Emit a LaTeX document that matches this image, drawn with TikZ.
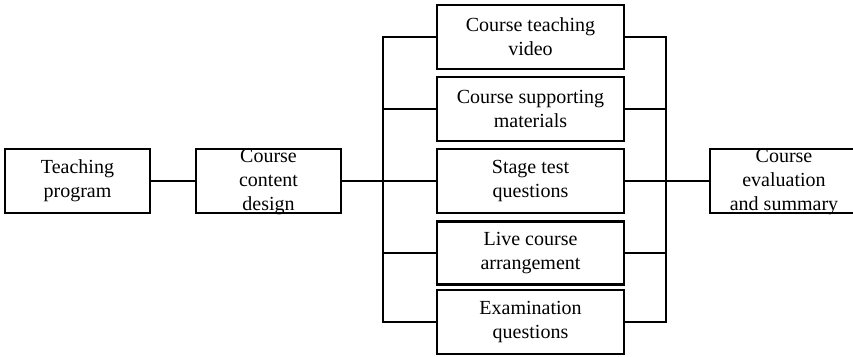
\documentclass[tikz,border=0pt]{standalone}
\usepackage{fontspec}
\setmainfont{Liberation Serif}
\begin{document}
\begin{tikzpicture}[x=1pt,y=-1pt,
  line width=2.2pt,
  box/.style={draw, rectangle, inner sep=0pt, minimum width=#1, minimum height=64pt},
  txt/.style={inner sep=0pt, align=center, font=\fontsize{20}{24}\selectfont},
  link/.style={draw, line join=miter}]
\useasboundingbox (0,0) rectangle (853,356);

% main chain
\node[box=145pt] (tp) at (77.5,181) {};
\node[txt] (tpt) at (tp) {Teaching\\program};
\node[box=145pt] (ccd) at (268.5,181) {};
\node[txt] (ccdt) at ([yshift=-1pt]ccd) {Course\\content\\design};
\node[box=148pt] (ces) at (784,181) {};
\node[txt] (cest) at ([yshift=-1pt]ces) {Course\\evaluation\\and summary};

% parallel resources
\node[box=187pt] (b1) at (530.5,37) {};
\node[txt] (b1t) at (b1) {Course teaching\\video};
\node[box=187pt] (b2) at (530.5,109) {};
\node[txt] (b2t) at (b2) {Course supporting\\materials};
\node[box=187pt] (b3) at (530.5,181) {};
\node[txt] (b3t) at (b3) {Stage test\\questions};
\node[box=187pt, minimum height=63pt] (b4) at (530.5,253) {};
\node[txt] (b4t) at (b4) {Live course\\arrangement};
\node[box=187pt] (b5) at (530.5,322) {};
\node[txt] (b5t) at (b5) {Examination\\questions};

% left and right spines
\coordinate (L) at (383,181);
\coordinate (R) at (666,181);

\draw[link] (tp.east) -- (ccd.west);
\draw[link] (ccd.east) -- (L);
\draw[link] (b1.west) -- (L|-b1) -- (L|-b5) -- (b5.west);
\draw[link] (L|-b2) -- (b2.west);
\draw[link] (L|-b3) -- (b3.west);
\draw[link] (L|-b4) -- (b4.west);

\draw[link] (b1.east) -- (R|-b1) -- (R|-b5) -- (b5.east);
\draw[link] (b2.east) -- (R|-b2);
\draw[link] (b3.east) -- (R|-b3);
\draw[link] (b4.east) -- (R|-b4);
\draw[link] (R) -- (ces.west);
\end{tikzpicture}
\end{document}
